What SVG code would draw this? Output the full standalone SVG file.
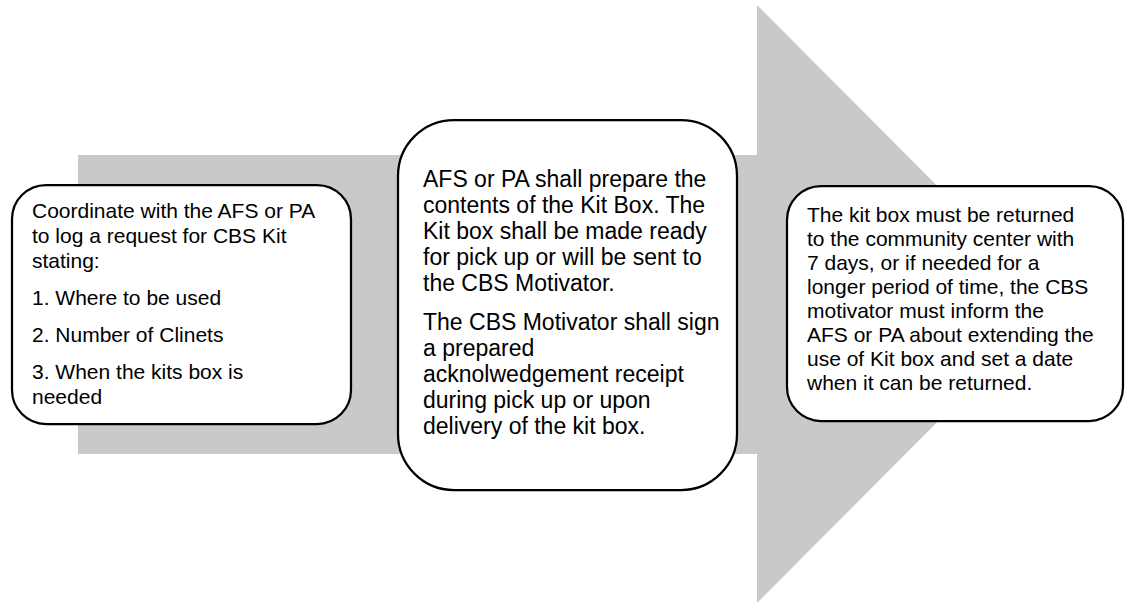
<svg xmlns="http://www.w3.org/2000/svg" width="1126" height="602" viewBox="0 0 1126 602">
<style>
.bg{fill:#ffffff}
.arrow{fill:#c9c9c9;stroke:none}
.box{fill:#ffffff;stroke:#000000;stroke-width:2.25}
.t{font-family:"Liberation Sans",Arial,sans-serif;fill:#000000}
.s1{font-size:21px}
.s2{font-size:23px}
</style>
<rect class="bg" x="0" y="0" width="1126" height="602"/>
<g id="arrow">
<path class="arrow" d="M78,155 L757,155 L757,5 L1055,304 L757,603 L757,454 L78,454 Z"/>
</g>
<g id="connectors"></g>
<g id="node1">
<rect class="box" x="12" y="185" width="339" height="239" rx="34" ry="34"/>
<text class="t s1" x="32" y="218">Coordinate with the AFS or PA</text>
<text class="t s1" x="32" y="243">to log a request for CBS Kit</text>
<text class="t s1" x="32" y="268">stating:</text>
<text class="t s1" x="32" y="305">1. Where to be used</text>
<text class="t s1" x="32" y="342">2. Number of Clinets</text>
<text class="t s1" x="32" y="379">3. When the kits box is</text>
<text class="t s1" x="32" y="404">needed</text>
</g>
<g id="node2">
<rect class="box" x="398" y="120" width="339" height="370" rx="56" ry="56"/>
<text class="t s2" x="423" y="187">AFS or PA shall prepare the</text>
<text class="t s2" x="423" y="213">contents of the Kit Box. The</text>
<text class="t s2" x="423" y="239">Kit box shall be made ready</text>
<text class="t s2" x="423" y="265">for pick up or will be sent to</text>
<text class="t s2" x="423" y="291">the CBS Motivator.</text>
<text class="t s2" x="423" y="330">The CBS Motivator shall sign</text>
<text class="t s2" x="423" y="356">a prepared</text>
<text class="t s2" x="423" y="382">acknolwedgement receipt</text>
<text class="t s2" x="423" y="408">during pick up or upon</text>
<text class="t s2" x="423" y="434">delivery of the kit box.</text>
</g>
<g id="node3">
<rect class="box" x="787" y="186" width="336" height="235" rx="34" ry="34"/>
<text class="t s1" x="807" y="222">The kit box must be returned</text>
<text class="t s1" x="807" y="246">to the community center with</text>
<text class="t s1" x="807" y="270">7 days, or if needed for a</text>
<text class="t s1" x="807" y="294">longer period of time, the CBS</text>
<text class="t s1" x="807" y="318">motivator must inform the</text>
<text class="t s1" x="807" y="342">AFS or PA about extending the</text>
<text class="t s1" x="807" y="366">use of Kit box and set a date</text>
<text class="t s1" x="807" y="390">when it can be returned.</text>
</g>
</svg>
